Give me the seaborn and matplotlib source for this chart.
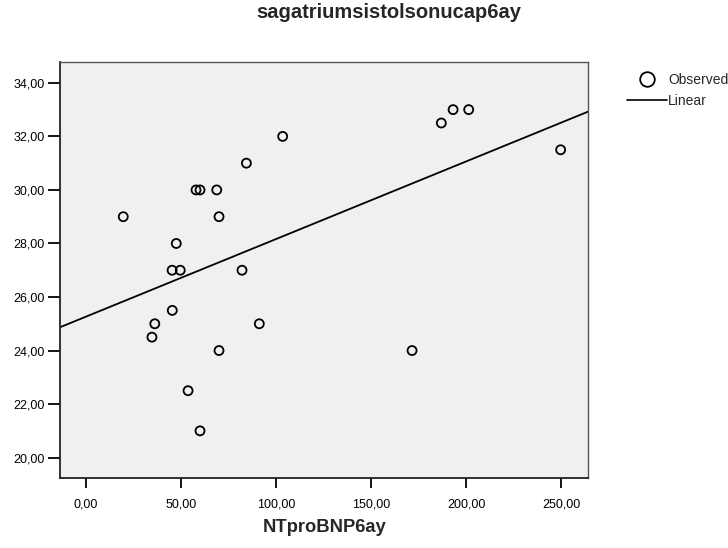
import matplotlib
matplotlib.use("Agg")
import matplotlib.pyplot as plt
from matplotlib.ticker import FuncFormatter
from matplotlib.lines import Line2D
import seaborn as sns
import pandas as pd

title = "sagatriumsistolsonucap6ay"
x_name = "NTproBNP6ay"
ntprobnp = [19.6, 47.5, 45.3, 49.6, 57.9, 60.0, 68.8, 70.0, 84.4, 103.5, 82.1,
            45.4, 36.2, 34.7, 91.2, 70.0, 53.7, 60.0,
            187.0, 193.2, 201.4, 249.8, 171.6]
sagatrium = [29.0, 28.0, 27.0, 27.0, 30.0, 30.0, 30.0, 29.0, 31.0, 32.0, 27.0,
             25.5, 25.0, 24.5, 25.0, 24.0, 22.5, 21.0,
             32.5, 33.0, 33.0, 31.5, 24.0]
x_ticks = [0, 50, 100, 150, 200, 250]
y_ticks = [20, 22, 24, 26, 28, 30, 32, 34]

df = pd.DataFrame({x_name: ntprobnp, title: sagatrium})

sns.set_style("white")
plt.rcParams['font.family'] = ['Liberation Sans', 'DejaVu Sans']

fig = plt.figure(figsize=(7.28, 5.48), dpi=100)
ax = fig.add_axes([0.0824, 0.1283, 0.7253, 0.7586])
ax.set_facecolor("#F0F0F0")
ax.set_xlim(-13.7, 264.2)
ax.set_ylim(19.25, 34.78)

sns.regplot(data=df, x=x_name, y=title, ax=ax, ci=None, truncate=False,
            scatter_kws=dict(marker='o', s=42, facecolors='none', alpha=1,
                             edgecolors='black', linewidths=1.3),
            line_kws=dict(color='black', lw=1.3))
ax.set_xlim(-13.7, 264.2)
ax.set_ylim(19.25, 34.78)

fmt = FuncFormatter(lambda v, p: f"{v:.2f}".replace('.', ','))
ax.set_xticks(x_ticks)
ax.set_yticks(y_ticks)
ax.xaxis.set_major_formatter(fmt)
ax.yaxis.set_major_formatter(fmt)
ax.tick_params(axis='x', direction='out', length=7, width=1.3, colors='black',
               labelsize=9, pad=8, bottom=True)
ax.tick_params(axis='y', direction='out', length=9, width=1.3, colors='black',
               labelsize=9, pad=2, left=True)

for s in ['top', 'right']:
    ax.spines[s].set_color('#555555')
    ax.spines[s].set_linewidth(1.0)
for s in ['left', 'bottom']:
    ax.spines[s].set_color('#222222')
    ax.spines[s].set_linewidth(1.3)

ax.set_ylabel("")
ax.set_xlabel("")
fig.text(324.5 / 728, 1 - 527 / 548, x_name, ha='center', va='center',
         fontsize=13.2, fontweight='bold')

fig.text(389 / 728, 1 - 13 / 548, title, ha='center', va='center',
         fontsize=14.5, fontweight='bold')

handles = [Line2D([], [], marker='o', linestyle='none', markersize=10.5,
                  markerfacecolor='none', markeredgecolor='black', markeredgewidth=1.3),
           Line2D([], [], color='black', lw=1.2)]
fig.legend(handles, ['Observed', 'Linear'], loc='upper left',
           bbox_to_anchor=(627 / 728, 1 - 73 / 548), frameon=False,
           fontsize=10, handlelength=2.9, handletextpad=0.05,
           labelspacing=0.5, borderaxespad=0, borderpad=0)

fig.savefig("out.png", dpi=100)
